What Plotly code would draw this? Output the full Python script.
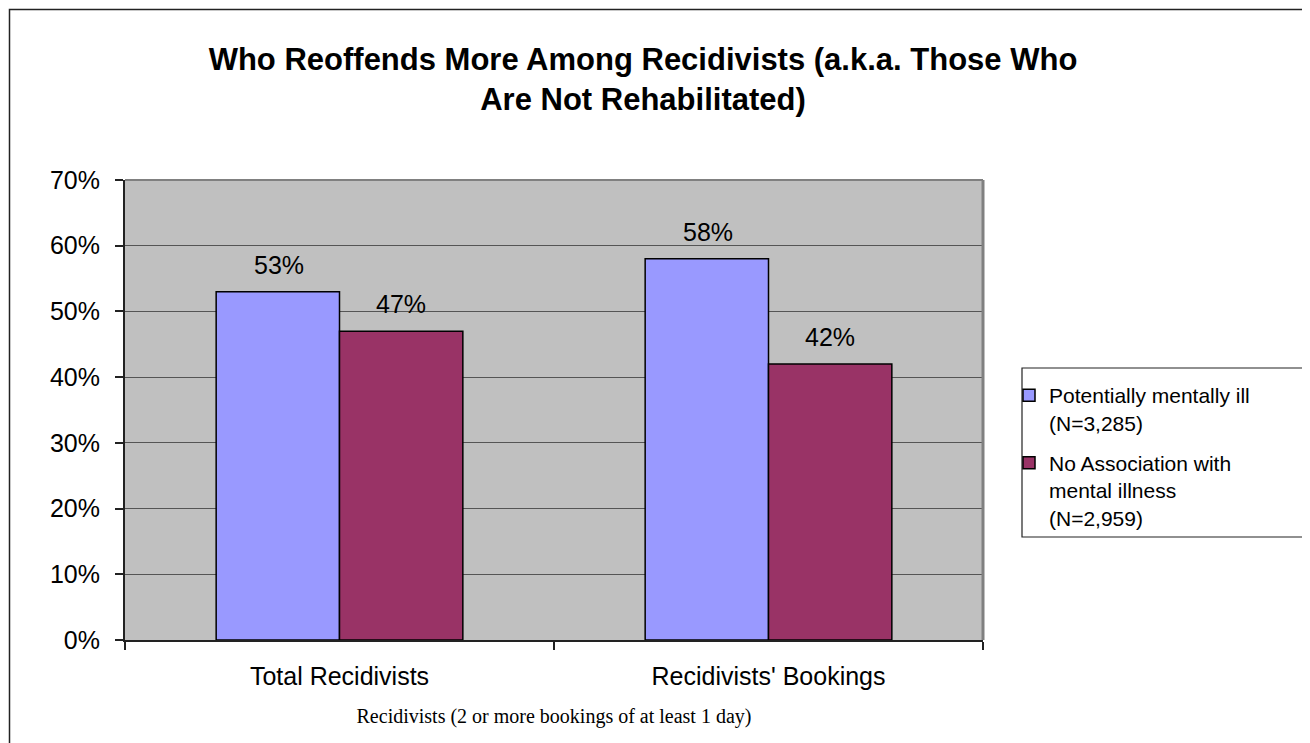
import plotly.graph_objects as go

categories = ["Total Recidivists", "Recidivists' Bookings"]
mentally_ill = [0.53, 0.58]
no_association = [0.47, 0.42]
series_names = ["Potentially mentally ill<br>(N=3,285)",
                "No Association with<br>mental illness<br>(N=2,959)"]
y_ticks = [0, 0.1, 0.2, 0.3, 0.4, 0.5, 0.6, 0.7]

OFF = 8  # page body margin
W, H = 1310, 743
L, T = 125 - OFF, 180 - OFF
pw, ph = 858, 460
R, B = W - L - pw, H - T - ph

def px_x(p):
    return (p - OFF - L) / pw

def px_y(p):
    return (T + ph - (p - OFF)) / ph

FONT = "Arial, Liberation Sans, sans-serif"
BLUE = "#9999FF"
RED = "#993366"

fig = go.Figure()
fig.add_trace(go.Bar(x=categories, y=mentally_ill, name=series_names[0],
                     marker=dict(color=BLUE, line=dict(color="black", width=1.5)),
                     legendgroup="a"))
fig.add_trace(go.Bar(x=categories, y=no_association, name=series_names[1],
                     marker=dict(color=RED, line=dict(color="black", width=1.5)),
                     legendgroup="b"))

annotations = []
for vals, shift in ((mentally_ill, -61), (no_association, 61)):
    for c, v in zip(categories, vals):
        annotations.append(dict(x=c, y=v, xref="x", yref="y", text=f"{round(v*100)}%",
                                showarrow=False, xshift=shift, yshift=27, yanchor="middle",
                                font=dict(family=FONT, size=25, color="black")))

shapes = [
    # outer chart border
    dict(type="rect", xref="paper", yref="paper", x0=px_x(9.5), x1=px_x(1340),
         y0=px_y(770), y1=px_y(9.5), line=dict(color="#222", width=1.5), layer="below"),
    # plot area top and right border
    dict(type="line", xref="paper", yref="paper", x0=0, x1=1, y0=1, y1=1,
         line=dict(color="#808080", width=2), layer="above"),
    dict(type="line", xref="paper", yref="paper", x0=1, x1=1, y0=0, y1=1,
         line=dict(color="#808080", width=3), layer="above"),
    # legend border
    dict(type="rect", xref="paper", yref="paper", x0=px_x(1022), x1=px_x(1340),
         y0=px_y(537), y1=px_y(368), line=dict(color="#222", width=1.2),
         fillcolor="white", layer="below"),
]

fig.update_layout(
    width=W, height=H,
    margin=dict(l=L, r=R, t=T, b=B),
    paper_bgcolor="white",
    plot_bgcolor="#C0C0C0",
    barmode="group", bargap=0.425, bargroupgap=0,
    title=dict(text="<b>Who Reoffends More Among Recidivists (a.k.a. Those Who<br>Are Not Rehabilitated)</b>",
               x=(643 - OFF) / W, xref="container", xanchor="center",
               y=1 - (70 - OFF) / H, yref="container", yanchor="middle",
               font=dict(family=FONT, size=31, color="black")),
    font=dict(family=FONT, color="black"),
    legend=dict(x=px_x(1009), y=px_y(375), xanchor="left", yanchor="top",
                bgcolor="rgba(0,0,0,0)", borderwidth=0,
                font=dict(family=FONT, size=21, color="black"),
                traceorder="grouped", tracegroupgap=10, valign="top"),
    annotations=annotations,
    shapes=shapes,
)

fig.update_xaxes(
    showline=True, linecolor="#222", linewidth=2,
    ticks="outside", ticklen=8, tickcolor="#222", tickwidth=1.5,
    tickson="boundaries", ticklabelstandoff=13,
    tickfont=dict(family=FONT, size=25, color="black"),
    title=dict(text="Recidivists (2 or more bookings of at least 1 day)",
               font=dict(family="Liberation Serif, Times New Roman, serif", size=20, color="black"),
               standoff=20),
    showgrid=False,
)
fig.update_yaxes(
    range=[0, 0.7], tickvals=y_ticks, tickformat=".0%",
    showline=True, linecolor="#222", linewidth=2,
    ticks="outside", ticklen=8, tickcolor="#222", tickwidth=1.5,
    ticklabelstandoff=10,
    tickfont=dict(family=FONT, size=25, color="black"),
    showgrid=True, gridcolor="#555", gridwidth=1,
    zeroline=False,
)

fig.write_html("out.html")
